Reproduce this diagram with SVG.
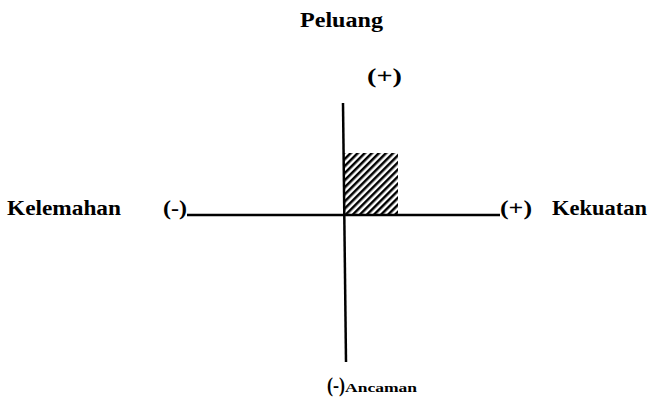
<svg xmlns="http://www.w3.org/2000/svg" width="649" height="400" viewBox="0 0 649 400">
<style>
.t{font-family:"Liberation Serif","Times New Roman",serif;font-weight:bold;font-size:20px;fill:#000}
.s{font-size:13px}
.ax{stroke:#000;stroke-width:2.5;fill:none}
</style>
<defs>
<pattern id="hatch" width="5" height="5" patternUnits="userSpaceOnUse" patternTransform="rotate(45)">
<rect x="0" y="0" width="2.5" height="5" fill="#000"/>
</pattern>
</defs>
<rect width="649" height="400" fill="#fff"/>
<g id="quadrant">
<rect x="344" y="153" width="54" height="62" fill="url(#hatch)"/>
</g>
<g id="connectors">
<line class="ax" x1="343" y1="103" x2="346" y2="362"/>
<line class="ax" x1="187" y1="215" x2="500" y2="215"/>
</g>
<g id="peluang">
<text class="t" x="300" y="27" textLength="83" lengthAdjust="spacingAndGlyphs">Peluang</text>
<text class="t" x="367" y="83" textLength="35" lengthAdjust="spacingAndGlyphs">(+)</text>
</g>
<g id="kelemahan">
<text class="t" x="7" y="215" textLength="114" lengthAdjust="spacingAndGlyphs">Kelemahan</text>
<text class="t" x="163" y="215" textLength="24" lengthAdjust="spacingAndGlyphs">(-)</text>
</g>
<g id="kekuatan">
<text class="t" x="500" y="215" textLength="32" lengthAdjust="spacingAndGlyphs">(+)</text>
<text class="t" x="552" y="215" textLength="95" lengthAdjust="spacingAndGlyphs">Kekuatan</text>
</g>
<g id="ancaman">
<text class="t" x="327" y="392" textLength="18" lengthAdjust="spacingAndGlyphs">(-)</text>
<text class="t s" x="345" y="392" textLength="72" lengthAdjust="spacingAndGlyphs">Ancaman</text>
</g>
</svg>
